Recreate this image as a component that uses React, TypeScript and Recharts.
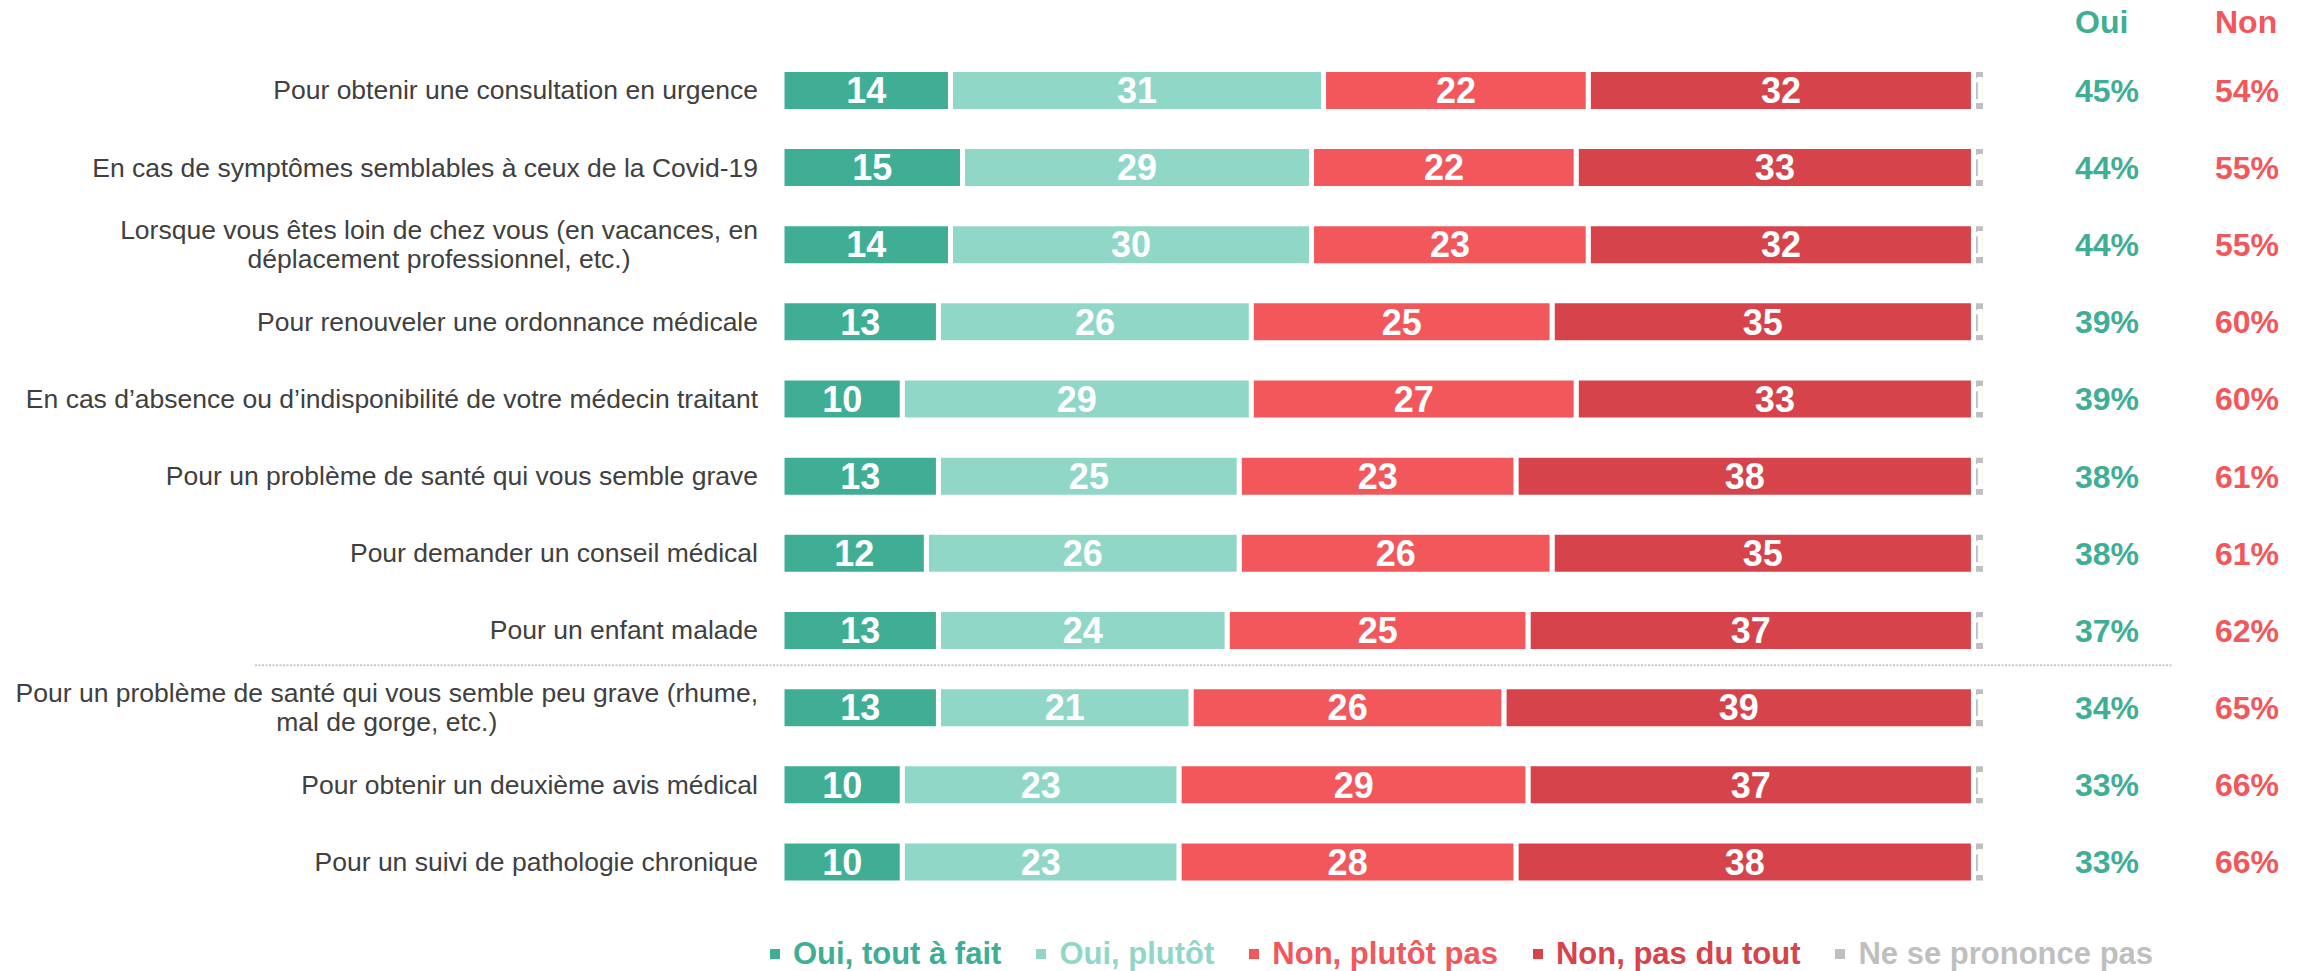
import React from 'react';
import { BarChart, Bar, XAxis, YAxis, LabelList, Legend } from 'recharts';

const categories = [
  'Pour obtenir une consultation en urgence',
  'En cas de symptômes semblables à ceux de la Covid-19',
  'Lorsque vous êtes loin de chez vous (en vacances, en\ndéplacement professionnel, etc.)',
  'Pour renouveler une ordonnance médicale',
  'En cas d’absence ou d’indisponibilité de votre médecin traitant',
  'Pour un problème de santé qui vous semble grave',
  'Pour demander un conseil médical',
  'Pour un enfant malade',
  'Pour un problème de santé qui vous semble peu grave (rhume,\nmal de gorge, etc.)',
  'Pour obtenir un deuxième avis médical',
  'Pour un suivi de pathologie chronique',
];

const toutAFait = [14, 15, 14, 13, 10, 13, 12, 13, 13, 10, 10];
const plutot = [31, 29, 30, 26, 29, 25, 26, 24, 21, 23, 23];
const plutotPas = [22, 22, 23, 25, 27, 23, 26, 25, 26, 29, 28];
const pasDuTout = [32, 33, 32, 35, 33, 38, 35, 37, 39, 37, 38];
const nsp = [1, 1, 1, 1, 1, 1, 1, 1, 1, 1, 1];

const ouiTotals = [45, 44, 44, 39, 39, 38, 38, 37, 34, 33, 33];
const nonTotals = [54, 55, 55, 60, 60, 61, 61, 62, 65, 66, 66];

const series = [
  { key: 'toutAFait', name: 'Oui, tout à fait', color: '#3FAE94' },
  { key: 'plutot', name: 'Oui, plutôt', color: '#91D7C8' },
  { key: 'plutotPas', name: 'Non, plutôt pas', color: '#F1575B' },
  { key: 'pasDuTout', name: 'Non, pas du tout', color: '#D6434A' },
  { key: 'nsp', name: 'Ne se prononce pas', color: '#BFBFBF' },
];

// index of the first row below the dotted separator
const SEPARATOR_BEFORE = 8;

const data = categories.map((name, i) => ({
  name,
  toutAFait: toutAFait[i],
  plutot: plutot[i],
  plutotPas: plutotPas[i],
  pasDuTout: pasDuTout[i],
  nsp: nsp[i],
  oui: ouiTotals[i],
  non: nonTotals[i],
}));

const FONT = '"Liberation Sans", Arial, Helvetica, sans-serif';
const LABEL_RIGHT = 758;
const LABEL_SIZE = 26.5;

let canvas: HTMLCanvasElement | null = null;
function textWidth(s: string) {
  if (!canvas) canvas = document.createElement('canvas');
  const ctx = canvas.getContext('2d')!;
  ctx.font = `${LABEL_SIZE}px ${FONT}`;
  return ctx.measureText(s).width;
}

function CategoryTick(props: any) {
  const { y, payload } = props;
  const idx = categories.indexOf(payload.value);
  const lines: string[] = String(payload.value).split('\n');
  let content;
  if (lines.length === 1) {
    content = (
      <text x={LABEL_RIGHT} y={y} dy="0.355em" textAnchor="end" fill="#404040" fontSize={LABEL_SIZE} fontFamily={FONT}>
        {lines[0]}
      </text>
    );
  } else {
    const w = Math.max(...lines.map(textWidth));
    const cx = LABEL_RIGHT - w / 2;
    content = lines.map((l, i) => (
      <text key={i} x={cx} y={y + (i - (lines.length - 1) / 2) * 29.5} dy="0.355em" textAnchor="middle" fill="#404040" fontSize={LABEL_SIZE} fontFamily={FONT}>
        {l}
      </text>
    ));
  }
  return (
    <g>
      {idx === SEPARATOR_BEFORE && (
        <line x1={255} x2={2173} y1={y - 42} y2={y - 42} stroke="#C8C8C8" strokeWidth={2} strokeDasharray="2 1.5" />
      )}
      {content}
    </g>
  );
}

function TotalsLabel(props: any) {
  const { x, y, width, height, index } = props;
  const right = Number(x) + Number(width);
  const cy = Number(y) + Number(height) / 2;
  const style = { fontSize: 32, fontWeight: 'bold' as const, fontFamily: FONT };
  return (
    <g>
      {index === 0 && (
        <>
          <text x={right + 89.5} y={cy - 69} dy="0.355em" fill="#3FAE94" {...style}>Oui</text>
          <text x={right + 229.5} y={cy - 69} dy="0.355em" fill="#F1575B" {...style}>Non</text>
        </>
      )}
      <text x={right + 89.5} y={cy} dy="0.355em" fill="#3FAE94" {...style}>{ouiTotals[index]}%</text>
      <text x={right + 229.5} y={cy} dy="0.355em" fill="#F1575B" {...style}>{nonTotals[index]}%</text>
    </g>
  );
}

function LegendContent() {
  return (
    <div style={{ display: 'flex', alignItems: 'center', fontFamily: FONT, fontSize: 31, fontWeight: 'bold', lineHeight: 1, whiteSpace: 'nowrap' }}>
      {series.map((s) => (
        <div key={s.key} style={{ display: 'flex', alignItems: 'center', marginRight: 35, color: s.color }}>
          <span style={{ display: 'inline-block', width: 10, height: 10, background: s.color, marginRight: 13 }} />
          <span>{s.name}</span>
        </div>
      ))}
    </div>
  );
}

export default function App() {
  return (
    <div style={{ position: 'absolute', left: 0, top: 0, width: 2305, height: 971, background: '#fff', fontFamily: FONT }}>
      <BarChart
        width={2305}
        height={971}
        data={data}
        layout="vertical"
        margin={{ top: 51.4, right: 319.5, bottom: 70.9, left: 0 }}
      >
        <XAxis type="number" domain={[0, 100]} hide />
        <YAxis
          type="category"
          dataKey="name"
          width={782}
          axisLine={false}
          tickLine={false}
          interval={0}
          tick={<CategoryTick />}
        />
        <Legend
          layout="horizontal"
          verticalAlign="middle"
          align="center"
          content={<LegendContent />}
          wrapperStyle={{ left: 770, top: 938, width: 1500, height: 31 }}
        />
        {series.map((s) => (
          <Bar
            key={s.key}
            dataKey={s.key}
            name={s.name}
            stackId="a"
            fill={s.color}
            stroke="#fff"
            strokeWidth={5}
            barSize={42}
            isAnimationActive={false}
          >
            <LabelList dataKey={s.key} position="center" fill="#fff" fontSize={36} fontWeight="bold" fontFamily={FONT} />
            {s.key === 'nsp' && <LabelList dataKey="oui" content={<TotalsLabel />} />}
          </Bar>
        ))}
      </BarChart>
    </div>
  );
}
